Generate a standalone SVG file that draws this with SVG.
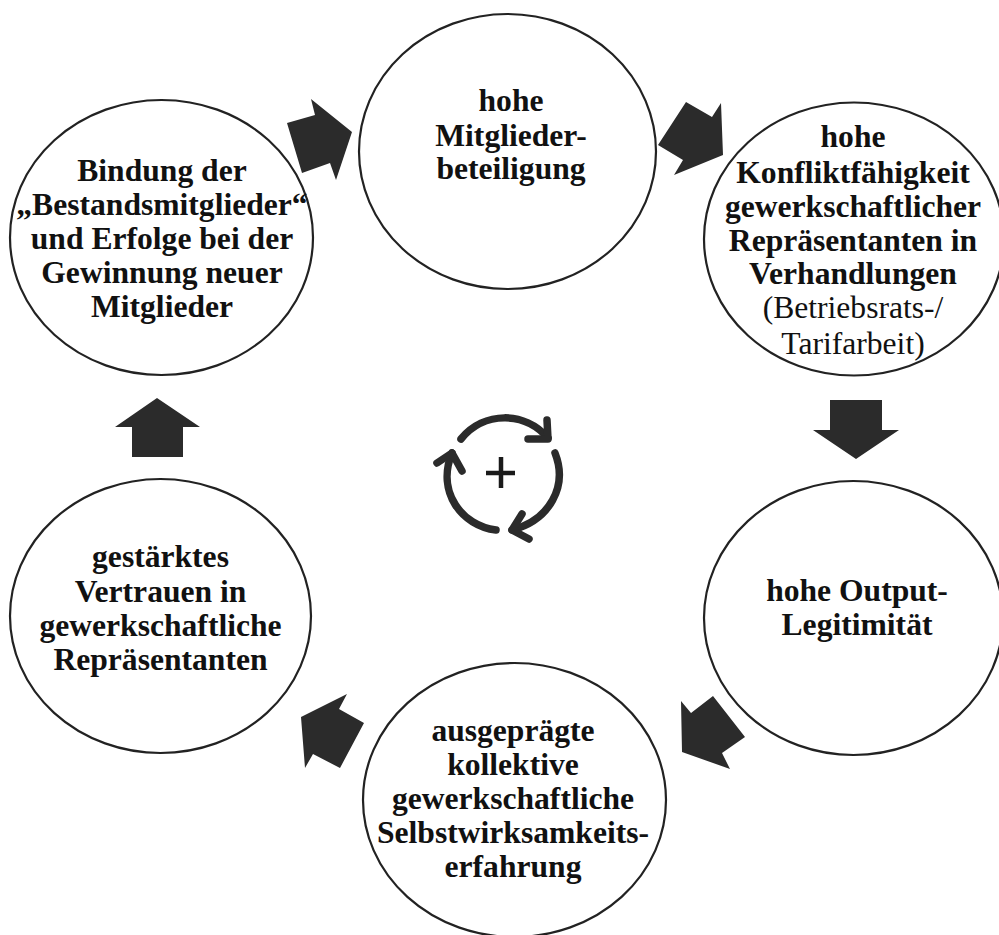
<svg xmlns="http://www.w3.org/2000/svg" width="999" height="935" viewBox="0 0 999 935">
<style>
.c{fill:#fff;stroke:#222;stroke-width:2.2}
text{font-family:"Liberation Serif","Times New Roman",serif;font-size:31.6px;fill:#111;text-anchor:middle}
.b{font-weight:bold}
.a{fill:#2b2b2b}
.s{fill:none;stroke:#2b2b2b;stroke-width:7.5;stroke-linecap:round;stroke-linejoin:round}
</style>
<rect width="999" height="935" fill="#fff"/>
<g id="n1"><ellipse class="c" cx="507.5" cy="151.5" rx="148.5" ry="137.5"/>
<text class="b" x="511" y="111">hohe</text><text class="b" x="511" y="146">Mitglieder-</text><text class="b" x="511" y="179">beteiligung</text></g>
<g id="n2"><ellipse class="c" cx="854" cy="239" rx="150" ry="136.5"/>
<text class="b" x="853" y="147">hohe</text><text class="b" x="853" y="183">Konfliktfähigkeit</text><text class="b" x="853" y="217">gewerkschaftlicher</text><text class="b" x="853" y="251">Repräsentanten in</text><text class="b" x="853" y="284">Verhandlungen</text><text x="853" y="318">(Betriebsrats-/</text><text x="853" y="354">Tarifarbeit)</text></g>
<g id="n3"><ellipse class="c" cx="853.5" cy="618" rx="149.5" ry="137"/>
<text class="b" x="857" y="601">hohe Output-</text><text class="b" x="857" y="635">Legitimität</text></g>
<g id="n4"><ellipse class="c" cx="514.5" cy="800" rx="151.5" ry="137"/>
<text class="b" x="513" y="741">ausgeprägte</text><text class="b" x="513" y="775">kollektive</text><text class="b" x="513" y="809">gewerkschaftliche</text><text class="b" x="513" y="843">Selbstwirksamkeits-</text><text class="b" x="513" y="877">erfahrung</text></g>
<g id="n5"><ellipse class="c" cx="160.5" cy="616" rx="150.5" ry="137"/>
<text class="b" x="160.5" y="567">gestärktes</text><text class="b" x="160.5" y="602">Vertrauen in</text><text class="b" x="160.5" y="636">gewerkschaftliche</text><text class="b" x="160.5" y="670">Repräsentanten</text></g>
<g id="n6"><ellipse class="c" cx="161.5" cy="237.5" rx="151.5" ry="137.5"/>
<text class="b" x="162" y="181">Bindung der</text><text class="b" x="162" y="215">„Bestandsmitglieder“</text><text class="b" x="162" y="249">und Erfolge bei der</text><text class="b" x="162" y="283">Gewinnung neuer</text><text class="b" x="162" y="317">Mitglieder</text></g>
<g id="connectors">
<polygon class="a" points="287,123 315,115 311,99 352,132 336,180 330,163 302,173"/>
<polygon class="a" points="658,145 686,102 712,117 721,103 723,155 674,175 683,160"/>
<polygon class="a" points="830,400 882,400 882,430 899,430 856,459 813,430 830,430"/>
<polygon class="a" points="713,696 745,737 722,753 730,769 682,752 681,701 691,713"/>
<polygon class="a" points="301,717 347,694 339,709 364,723 340,768 313,754 305,768"/>
<polygon class="a" points="157,398 200,427 183,427 183,457 132,457 132,427 115,427"/>
</g>
<g id="cycle">
<path class="s" d="M461,439C484,411 525,411 548,438"/>
<path class="s" d="M528,439H548L547,420"/>
<path class="s" d="M555,453C568,486 550,520 512,530"/>
<path class="s" d="M522,514L512,530L529,539"/>
<path class="s" d="M496,530C462,526 436,492 452,453"/>
<path class="s" d="M437,463L452,453L462,471"/>
<path d="M486,473H515M501,457V488" fill="none" stroke="#1a1a1a" stroke-width="4.5"/>
</g>
</svg>
